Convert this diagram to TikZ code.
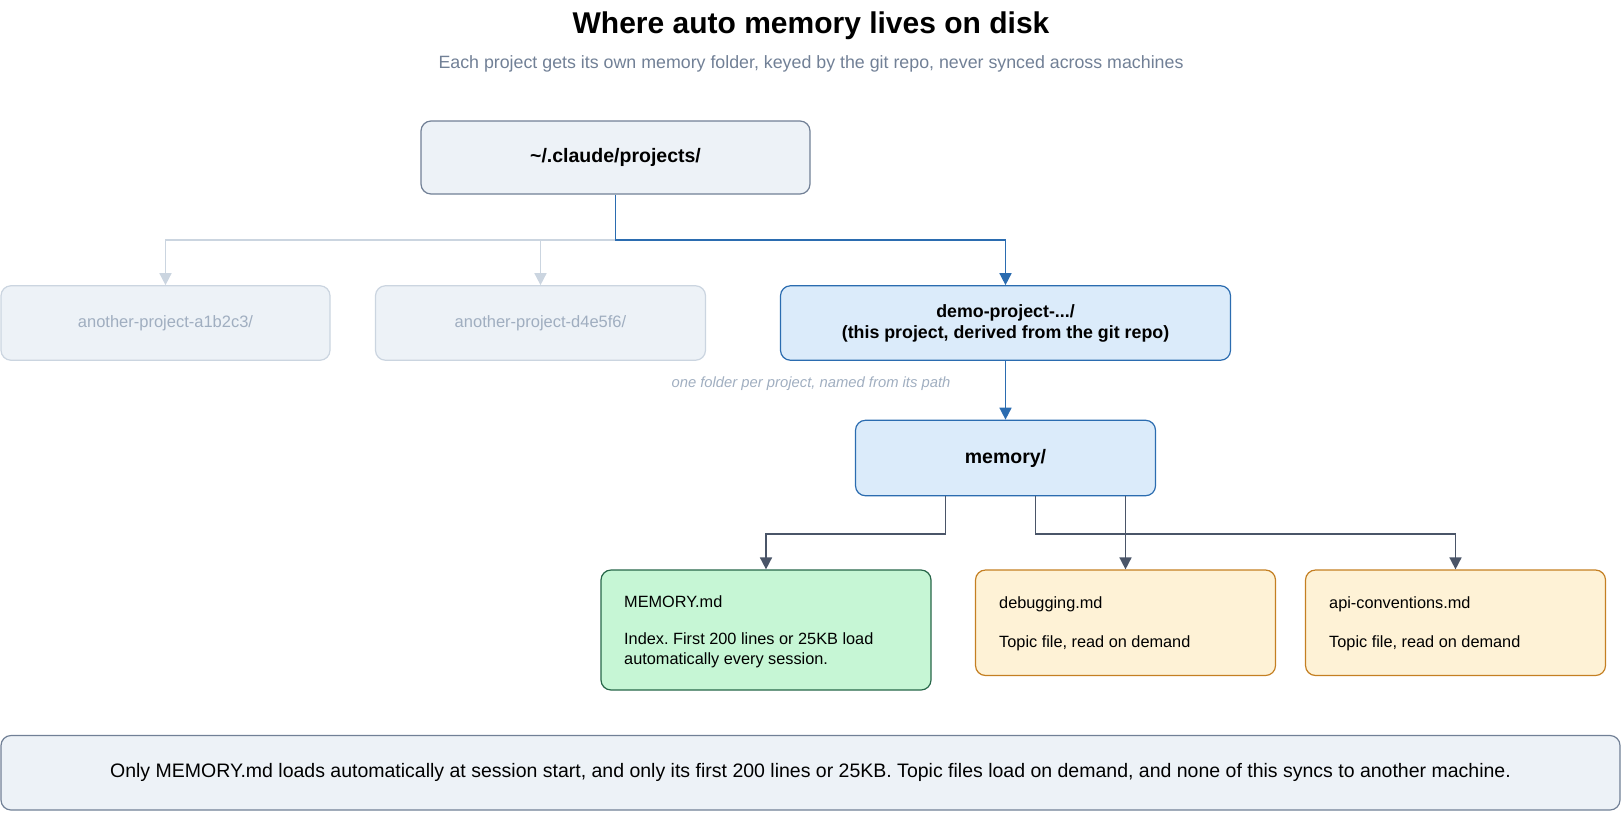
\documentclass[tikz,border=0pt]{standalone}
\usepackage{fontspec}
\setmainfont{Liberation Sans}
\usetikzlibrary{arrows.meta}
\definecolor{boxfill}{HTML}{EDF2F7}
\definecolor{boxline}{HTML}{718096}
\definecolor{ghostline}{HTML}{CBD5E0}
\definecolor{ghosttext}{HTML}{A0AEC0}
\definecolor{bluefill}{HTML}{DBEBFA}
\definecolor{blueline}{HTML}{2B6CB0}
\definecolor{darkline}{HTML}{4A5568}
\definecolor{greenfill}{HTML}{C6F6D5}
\definecolor{greenline}{HTML}{276749}
\definecolor{yellowfill}{HTML}{FEF2D6}
\definecolor{yellowline}{HTML}{C47F22}
\definecolor{subtext}{HTML}{718096}
\tikzset{
  basebox/.style={rounded corners=10pt, line width=1.2pt, inner sep=0pt, align=center},
  rootbox/.style={basebox, fill=boxfill, draw=boxline},
  ghostbox/.style={basebox, fill=boxfill, draw=ghostline, text=ghosttext, font=\fontsize{16.5}{20}\selectfont},
  bluebox/.style={basebox, fill=bluefill, draw=blueline},
  greenbox/.style={basebox, fill=greenfill, draw=greenline},
  yellowbox/.style={basebox, fill=yellowfill, draw=yellowline},
  notebox/.style={basebox, fill=boxfill, draw=boxline},
  filetext/.style={anchor=west, inner sep=0pt, font=\fontsize{16.3}{19.5}\selectfont, align=left},
  conn/.style={line width=1.6pt, -{Triangle[length=12pt,width=12pt]}},
  gline/.style={conn, draw=ghostline},
  bline/.style={conn, draw=blueline},
  dline/.style={conn, draw=darkline},
}
\begin{document}
\frenchspacing
\begin{tikzpicture}[x=1pt,y=-1pt]
\useasboundingbox (0,0) rectangle (1622,812);
\node[inner sep=0pt, font=\fontsize{30}{34}\selectfont\bfseries] (title) at (811,25.5) {Where auto memory lives on disk};
\node[inner sep=0pt, text=subtext, font=\fontsize{17.8}{21}\selectfont] (subtitle) at (811,64) {Each project gets its own memory folder, keyed by the git repo, never synced across machines};

\node[rootbox, minimum width=389pt, minimum height=73pt, font=\fontsize{19.5}{23}\selectfont\bfseries] (root) at (615.5,157.5) {\textasciitilde/.claude/projects/};

\node[ghostbox, minimum width=329pt, minimum height=74.5pt] (a1) at (165.5,323) {another-project-a1b2c3/};
\node[ghostbox, minimum width=330pt, minimum height=74.5pt] (a2) at (540.5,323) {another-project-d4e5f6/};
\node[bluebox, minimum width=450pt, minimum height=74.5pt, font=\fontsize{17.8}{21}\selectfont\bfseries] (demo) at (1005.5,323) {demo-project-.../\\(this project, derived from the git repo)};

\node[inner sep=0pt, text=ghosttext, font=\fontsize{14.8}{17}\selectfont\itshape] (lbl) at (811,383.5) {one folder per project, named from its path};

\node[bluebox, minimum width=300pt, minimum height=75.5pt, font=\fontsize{19.5}{23}\selectfont\bfseries] (mem) at (1005.5,458) {memory/};

\node[greenbox, minimum width=330pt, minimum height=120pt] (md) at (766,630) {};
\node[yellowbox, minimum width=300pt, minimum height=105.5pt] (dbg) at (1125.5,622.75) {};
\node[yellowbox, minimum width=300pt, minimum height=105.5pt] (api) at (1455.5,622.75) {};

\node[filetext] (mdt) at (624,602) {MEMORY.md};
\node[filetext] (mdd) at (624,650.5) {Index. First 200 lines or 25KB load\\automatically every session.};
\node[filetext] (dbgt) at (999,604) {debugging.md};
\node[filetext] (dbgd) at (999,643) {Topic file, read on demand};
\node[filetext] (apit) at (1329,604) {api-conventions.md};
\node[filetext] (apid) at (1329,643) {Topic file, read on demand};

\node[notebox, minimum width=1619pt, minimum height=74.5pt, font=\fontsize{19.5}{23}\selectfont] (note) at (810.5,772.75) {Only MEMORY.md loads automatically at session start, and only its first 200 lines or 25KB. Topic files load on demand, and none of this syncs to another machine.};

\coordinate (j) at (615.5,240);
\draw[gline] (j) -| (a1.north);
\draw[gline] (j) -| (a2.north);
\draw[bline] (root.south) -- (j) -| (demo.north);
\draw[bline] (demo.south) -- (mem.north);

\draw[dline] ([xshift=-60pt]mem.south) -- ++(0,37.5) -| (md.north);
\draw[dline] ([xshift=30pt]mem.south) -- ++(0,37.5) -| (api.north);
\draw[dline] ([xshift=120pt]mem.south) -- (dbg.north);
\end{tikzpicture}
\end{document}
